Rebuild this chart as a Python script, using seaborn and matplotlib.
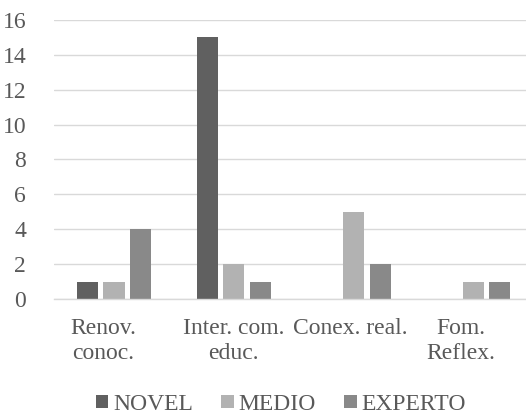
import numpy as np
import pandas as pd
import matplotlib
matplotlib.use('Agg')
import matplotlib.pyplot as plt
import matplotlib.transforms as mtransforms
from matplotlib.patches import Patch
import seaborn as sns

categorias = ['Renov.\nconoc.', 'Inter. com.\neduc.', 'Conex. real.', 'Fom.\nReflex.']
series = ['NOVEL', 'MEDIO', 'EXPERTO']
novel = [1, 15, 0, 0]
medio = [1, 2, 5, 1]
experto = [4, 1, 2, 1]
colores = ['#606060', '#b2b2b2', '#898989']

df = pd.DataFrame({
    'categoria': categorias * 3,
    'serie': np.repeat(series, len(categorias)),
    'valor': novel + medio + experto,
})

sns.set_style('white')
plt.rcParams['font.family'] = ['Liberation Serif', 'DejaVu Serif']

fig = plt.figure(figsize=(5.26, 4.16), dpi=100)
ax = fig.add_axes([0.1027, 0.2813, 0.8973, 0.6707])

sns.barplot(data=df, x='categoria', y='valor', hue='serie', order=categorias,
            hue_order=series, palette=colores, width=0.66, gap=0.2,
            linewidth=0, saturation=1, ax=ax, legend=False)

ax.set_ylim(0, 16)
ax.set_yticks(range(0, 17, 2))
ax.set_xlim(-0.5, 3.4375)
ax.grid(axis='y', color='#d9d9d9', linewidth=1.0)
ax.set_axisbelow(True)
for s in ['top', 'right', 'left']:
    ax.spines[s].set_visible(False)
ax.spines['bottom'].set_color('#d9d9d9')
ax.spines['bottom'].set_linewidth(1.0)

ax.tick_params(axis='both', length=0, labelsize=17, colors='#595959')
ax.tick_params(axis='y', pad=20)
ax.tick_params(axis='x', pad=14)
ax.set_xlabel('')
ax.set_ylabel('')

# etiquetas del eje x algo desplazadas como en el original
desplaz = [-11, 0, -3, -13]
for lab, dx in zip(ax.get_xticklabels(), desplaz):
    lab.set_transform(lab.get_transform() + mtransforms.ScaledTranslation(dx / 100, 0, fig.dpi_scale_trans))

handles = [Patch(facecolor=c, edgecolor='none') for c in colores]
fig.legend(handles, series, loc='center', bbox_to_anchor=(0.534, 0.028), ncol=3,
           frameon=False, fontsize=17, handlelength=0.53, handleheight=0.437,
           handletextpad=0.2, columnspacing=1.2, labelcolor='#595959')

fig.savefig('out.png', dpi=100)
